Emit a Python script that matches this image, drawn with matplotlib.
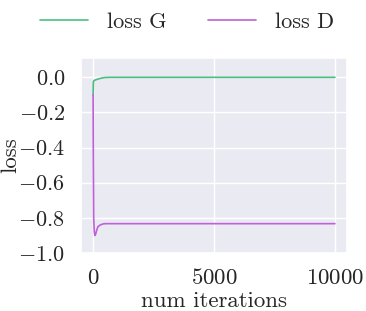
import matplotlib
matplotlib.use("Agg")
import matplotlib.pyplot as plt
import seaborn as sns

iterations = [0, 10, 25, 50, 75, 100, 150, 200, 300, 400, 500, 700, 1000, 2000, 4000, 6000, 8000, 10000]
loss_g = [-0.10, -0.03, -0.02, -0.018, -0.016, -0.015, -0.012, -0.010, -0.006, -0.003, -0.001, 0.0, 0.0, 0.0, 0.0, 0.0, 0.0, 0.0]
loss_d = [-0.10, -0.45, -0.80, -0.88, -0.90, -0.895, -0.87, -0.85, -0.84, -0.835, -0.833, -0.833, -0.833, -0.833, -0.833, -0.833, -0.833, -0.833]
series_labels = ["loss G", "loss D"]
x_label = "num iterations"
y_label = "loss"

sns.set_theme(style="darkgrid")
plt.rcParams['font.family'] = ['cmr10']
plt.rcParams['mathtext.fontset'] = 'cm'
plt.rcParams['axes.formatter.use_mathtext'] = True

fig = plt.figure(figsize=(3.66, 3.11), dpi=100)
ax = fig.add_axes([81/366, 1-253/311, 266/366, 195/311])
ax.plot(iterations, loss_g, color="#4cbf80", lw=1.2, label=series_labels[0])
ax.plot(iterations, loss_d, color="#c060d8", lw=1.2, label=series_labels[1])
ax.set_ylim(-1.0, 0.11)
ax.set_xlim(-500, 10500)
ax.set_yticks([-1.0, -0.8, -0.6, -0.4, -0.2, 0.0])
ax.set_xticks([0, 5000, 10000])
ax.tick_params(axis="y", labelsize=16, pad=5.5)
ax.tick_params(axis="x", labelsize=16.5, pad=5)
ax.set_xlabel(x_label, fontsize=16.5, labelpad=2)
ax.set_ylabel(y_label, fontsize=16.5)
ax.yaxis.set_label_coords((20 - 81) / 266, 0.503)
fig.legend(loc="center", bbox_to_anchor=(187/366, 1-22/311), ncol=2, frameon=False,
           fontsize=16, handlelength=2.15, columnspacing=1.9, handletextpad=0.85,
           borderpad=0, borderaxespad=0)
fig.savefig("out.png", dpi=100)
